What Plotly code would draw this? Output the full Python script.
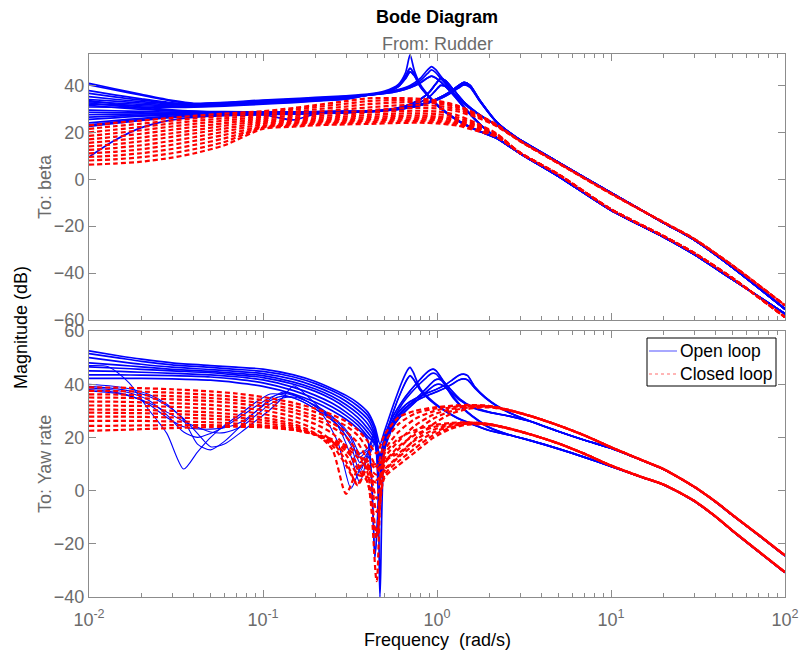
import plotly.graph_objects as go

BLUE = "#0000ff"
RED = "#ff0000"

# ======================= To: beta =======================
BETA_LOW_W = [0.01, 0.014, 0.02, 0.03, 0.04, 0.06, 0.1, 0.15, 0.2, 0.3]

# open loop, low-frequency part (dB)
BETA_OPEN_LOW = [
    [40.9, 38.6, 36.2, 33.6, 32.4, 32.8, 33.8, 34.4, 34.9, 35.6],
    [40.2, 38.1, 35.8, 33.3, 32.2, 32.6, 33.5, 34.1, 34.6, 35.3],
    [37.8, 36.0, 34.3, 32.6, 32.1, 32.6, 33.4, 34.0, 34.5, 35.2],
    [36.6, 35.1, 33.7, 32.4, 32.0, 32.5, 33.3, 33.9, 34.4, 35.1],
    [35.2, 34.1, 33.1, 32.1, 31.8, 32.2, 32.9, 33.5, 34.1, 34.9],
    [34.0, 33.3, 32.5, 31.7, 31.5, 32.0, 32.7, 33.3, 33.9, 34.7],
    [33.0, 32.5, 31.9, 31.3, 31.2, 31.7, 32.5, 33.1, 33.7, 34.5],
    [32.0, 31.7, 31.3, 31.0, 31.0, 31.5, 32.3, 32.9, 33.5, 34.3],
    [30.8, 30.7, 30.6, 30.6, 30.7, 31.2, 32.0, 32.7, 33.3, 34.1],
    [33.5, 32.2, 30.8, 29.6, 29.1, 28.8, 28.7, 28.7, 28.8, 29.0],
    [32.5, 31.4, 30.3, 29.3, 28.9, 28.7, 28.6, 28.6, 28.7, 28.9],
    [31.5, 30.6, 29.8, 29.1, 28.8, 28.6, 28.5, 28.6, 28.7, 28.9],
    [29.5, 29.2, 28.9, 28.6, 28.5, 28.4, 28.3, 28.4, 28.6, 28.8],
    [28.5, 28.4, 28.3, 28.2, 28.2, 28.2, 28.2, 28.3, 28.5, 28.7],
    [27.5, 27.7, 27.9, 28.0, 28.1, 28.1, 27.5, 25.3, 27.8, 28.6],
    [26.5, 26.9, 27.3, 27.7, 27.9, 28.0, 28.0, 28.2, 28.4, 28.6],
    [25.5, 26.2, 26.9, 27.4, 27.7, 27.9, 27.9, 28.1, 28.3, 28.6],
    [24.0, 25.0, 26.0, 26.9, 27.3, 27.6, 27.8, 28.0, 28.2, 28.5],
    [23.2, 24.4, 25.5, 26.6, 27.1, 27.5, 27.7, 27.9, 28.1, 28.4],
    [22.5, 23.8, 25.1, 26.4, 26.9, 27.4, 27.6, 27.9, 28.1, 28.4],
    [9.5, 16.5, 22.0, 25.3, 26.4, 27.1, 27.5, 27.8, 28.0, 28.3],
]

# open loop, resonance parts
BETA_PEAK_A_W = [0.4, 0.5, 0.6, 0.66, 0.70, 0.74, 0.8, 0.9, 1.05, 1.3, 1.7, 2.2]
BETA_PEAK_A = [
    [36.3, 37.6, 40.5, 45.5, 53.0, 46.5, 40.5, 35.5, 30.5, 25.5, 21.0, 17.5],
    [36.0, 37.2, 40.0, 44.0, 47.3, 45.0, 40.0, 35.2, 30.3, 25.3, 20.9, 17.5],
    [35.8, 36.9, 39.5, 43.0, 45.8, 44.2, 39.5, 35.0, 30.1, 25.2, 20.8, 17.5],
]
BETA_PEAK_B_W = [0.4, 0.5, 0.6, 0.7, 0.8, 0.88, 0.93, 0.98, 1.05, 1.2, 1.45, 1.8, 2.2]
BETA_PEAK_B = [
    [36.0, 37.0, 38.2, 40.0, 43.0, 46.5, 48.0, 46.8, 44.0, 38.5, 30.5, 23.0, 17.8],
    [35.9, 36.8, 37.9, 39.5, 42.0, 45.0, 46.6, 45.6, 43.0, 38.0, 30.2, 22.9, 17.8],
    [35.8, 36.6, 37.6, 39.0, 41.0, 43.2, 44.0, 43.3, 41.5, 37.2, 30.0, 22.8, 17.8],
]
BETA_PEAK_C_W = [0.4, 0.5, 0.6, 0.7, 0.8, 0.9, 0.98, 1.05, 1.12, 1.25, 1.45, 1.8, 2.2]
BETA_PEAK_C = [
    [29.0, 29.5, 30.5, 32.0, 34.0, 37.0, 40.5, 43.0, 42.0, 38.0, 32.5, 27.0, 23.0],
    [28.9, 29.3, 30.1, 31.3, 32.8, 35.0, 37.8, 40.0, 39.6, 36.5, 31.8, 26.8, 23.0],
]
BETA_PEAK_D_W = [0.4, 0.5, 0.6, 0.7, 0.8, 0.9, 1.0, 1.1, 1.2, 1.32, 1.43, 1.55, 1.75, 2.2]
BETA_PEAK_D = [
    [29.0, 29.4, 30.0, 30.8, 31.8, 33.0, 34.3, 35.8, 37.5, 39.8, 41.3, 40.0, 34.0, 24.5],
    [28.9, 29.3, 29.9, 30.6, 31.6, 32.8, 34.0, 35.5, 37.1, 39.3, 40.7, 39.6, 33.8, 24.4],
    [28.8, 29.2, 29.8, 30.5, 31.5, 32.6, 33.8, 35.2, 36.8, 38.8, 40.2, 39.2, 33.6, 24.3],
]
BETA_OPEN_ROUTE = [("A", 0), ("B", 0), ("A", 2), ("A", 1), ("B", 1), ("A", 2), ("B", 2), ("A", 1), ("B", 2),
                   ("C", 0), ("D", 0), ("D", 0), ("C", 1), ("C", 1), ("D", 1), ("D", 1), ("D", 2),
                   ("C", 0), ("C", 0), ("D", 0), ("D", 2)]

# closed loop
BETA_CLOSED_LOW = [
    [23.0, 24.0, 25.0, 26.2, 27.0, 28.0, 29.0, 30.4, 31.6, 33.3],
    [21.5, 22.6, 23.7, 25.0, 25.9, 27.0, 28.3, 29.7, 30.8, 32.2],
    [20.0, 21.1, 22.3, 23.8, 24.8, 26.0, 27.5, 28.8, 29.8, 31.0],
    [18.5, 19.6, 20.9, 22.5, 23.6, 25.0, 26.7, 28.0, 28.8, 29.8],
    [17.0, 18.1, 19.4, 21.1, 22.3, 23.9, 25.9, 27.1, 27.8, 28.6],
    [15.5, 16.5, 17.8, 19.6, 20.9, 22.8, 25.1, 26.3, 26.9, 27.6],
    [14.0, 14.9, 16.2, 18.1, 19.5, 21.6, 24.3, 25.6, 26.1, 26.7],
    [12.5, 13.3, 14.5, 16.4, 17.9, 20.3, 23.5, 24.9, 25.4, 25.9],
    [11.0, 11.7, 12.8, 14.7, 16.3, 18.9, 22.7, 24.2, 24.8, 25.2],
    [9.5, 10.1, 11.1, 12.9, 14.6, 17.4, 22.2, 23.6, 24.2, 24.6],
    [8.0, 8.5, 9.4, 11.1, 12.8, 15.9, 22.0, 23.0, 23.6, 24.0],
    [6.2, 6.7, 7.5, 9.2, 11.0, 14.5, 21.5, 22.4, 23.0, 23.4],
]
BETA_CLOSED_MID_W = [0.4, 0.6, 0.8, 1.0, 1.3, 1.7, 2.2]
BETA_CLOSED_MID = [
    [34.5, 34.6, 34.3, 33.5, 31.5, 27.8, 23.3],
    [33.3, 33.8, 33.6, 33.0, 31.2, 27.6, 23.2],
    [32.0, 32.8, 32.8, 32.4, 30.7, 27.3, 23.0],
    [30.6, 31.5, 31.6, 31.3, 29.9, 26.9, 22.8],
    [29.4, 30.2, 30.4, 30.2, 29.0, 26.3, 22.6],
    [28.4, 29.1, 29.2, 28.9, 27.4, 23.8, 19.5],
    [27.4, 28.0, 28.1, 27.8, 26.4, 23.2, 19.3],
    [26.5, 27.0, 27.1, 26.8, 25.5, 22.6, 19.0],
    [25.7, 26.2, 26.3, 26.0, 24.8, 22.1, 18.8],
    [25.0, 25.4, 25.5, 25.2, 24.1, 21.6, 18.5],
    [24.3, 24.7, 24.8, 24.5, 23.5, 21.1, 18.3],
    [23.6, 24.0, 24.1, 23.8, 22.9, 20.6, 18.0],
]
BETA_CLOSED_ROUTE = ["up"] * 5 + ["lo"] * 7

BETA_TAIL_W = [3, 5, 10, 20, 30, 50, 100]
BETA_TAIL_UP_RED = [16.3, 6.8, -6.1, -18.3, -25.4, -36.8, -53.8]
BETA_TAIL_UP_BLUE = [16.8, 7.2, -5.8, -18.5, -25.8, -37.6, -55.3]
BETA_TAIL_LO_RED = [11.3, 2.0, -12.8, -24.2, -31.4, -42.2, -58.8]
BETA_TAIL_LO_BLUE = [11.0, 1.2, -13.2, -24.6, -32.0, -42.8, -57.3]

# ======================= To: Yaw rate =======================
YAW_LOW_W = [0.01, 0.015, 0.02, 0.03, 0.05, 0.07, 0.1, 0.15, 0.2, 0.25, 0.3, 0.35, 0.4]
YAW_OPEN_UPPER = [
    [52.5, 50.6, 49.4, 48.0, 47.0, 46.4, 45.7, 43.5, 41.0, 38.3, 35.8, 33.0, 29.5],
    [51.5, 49.8, 48.6, 47.3, 46.3, 45.6, 44.8, 42.7, 40.2, 37.5, 34.8, 31.8, 28.2],
    [50.0, 48.5, 47.5, 46.4, 45.5, 44.8, 44.0, 41.8, 39.2, 36.5, 33.6, 30.4, 26.8],
    [48.0, 47.2, 46.5, 45.6, 44.8, 44.1, 43.2, 40.8, 38.2, 35.4, 32.3, 29.0, 25.0],
    [46.5, 46.0, 45.6, 45.0, 44.3, 43.5, 42.5, 40.0, 37.3, 34.3, 31.0, 27.5, 23.3],
    [45.0, 44.8, 44.5, 44.1, 43.5, 42.8, 41.6, 38.8, 35.8, 32.8, 29.5, 26.0, 21.8],
    [43.5, 43.5, 43.4, 43.2, 42.7, 41.9, 40.5, 37.6, 34.5, 31.4, 28.2, 24.7, 20.3],
    [42.2, 42.2, 42.2, 42.0, 41.5, 40.6, 39.2, 36.3, 33.2, 30.0, 26.8, 23.3, 19.0],
]
YAW_OPEN_UPPER_ROUTE = [("Q070", 0), ("Q095", 0), ("Q142", 0), ("Q070", 1),
                        ("Q095", 1), ("Q142", 1), ("Q102", 0), ("Q102", 1)]

YAW_MID_W = [0.01, 0.013, 0.017, 0.022, 0.028, 0.035, 0.042, 0.05, 0.06, 0.075,
             0.09, 0.11, 0.13, 0.15, 0.18, 0.22, 0.27, 0.32, 0.36, 0.4]
YAW_OPEN_MIDDLE = [
    [47.0, 46.5, 40.5, 30.5, 21.5, 8.1, 14.5, 20.0, 24.5, 29.0, 33.0, 36.3, 36.0, 34.8, 32.5, 28.5, 18.0, 0.8, 8.0, 12.0],
    [40.0, 39.4, 38.3, 36.2, 32.5, 26.5, 17.5, 15.3, 18.5, 24.5, 29.5, 34.5, 37.0, 36.0, 33.5, 29.5, 24.0, 13.0, 3.0, 13.0],
    [39.2, 38.6, 37.5, 35.5, 32.0, 27.0, 21.5, 16.5, 17.5, 22.0, 26.0, 30.5, 35.0, 39.4, 35.5, 30.0, 24.5, 17.0, 7.0, 14.0],
    [38.6, 38.0, 36.8, 34.0, 28.5, 22.0, 20.0, 21.5, 24.0, 28.0, 31.5, 35.0, 36.5, 35.8, 33.5, 30.0, 25.5, 19.5, 10.5, 14.5],
    [38.0, 37.3, 35.8, 32.5, 27.5, 24.0, 23.2, 23.1, 23.6, 25.8, 29.5, 33.8, 35.5, 34.8, 32.5, 29.0, 24.5, 18.0, 12.5, 15.0],
    [37.5, 36.9, 35.6, 33.0, 29.5, 26.0, 23.8, 22.0, 21.8, 24.0, 28.0, 32.5, 34.8, 35.2, 33.5, 30.5, 26.0, 20.5, 14.0, 16.0],
]
YAW_OPEN_MIDDLE_ROUTE = [("Q102", 0), ("Q142", 1), ("Q070", 1), ("Q095", 0), ("Q102", 1), ("Q142", 0)]

YAW_Q070_W = [0.44, 0.47, 0.5, 0.56, 0.63, 0.68, 0.70, 0.73, 0.8, 0.9, 1.05, 1.3, 1.6, 2.0, 2.6]
YAW_Q070 = [
    [24.0, 17.5, 22.5, 32.0, 41.0, 45.5, 46.3, 44.5, 38.5, 34.8, 31.2, 27.5, 25.0, 22.6, 20.9],
    [20.0, 8.0, 18.5, 29.5, 38.0, 42.3, 43.2, 42.0, 37.8, 34.3, 30.9, 27.3, 24.9, 22.6, 20.9],
]
YAW_Q095_W = [0.44, 0.47, 0.5, 0.56, 0.63, 0.7, 0.78, 0.86, 0.92, 0.95, 0.99, 1.08, 1.25, 1.5, 2.0, 2.6]
YAW_Q095 = [
    [22.5, 12.0, 20.5, 28.0, 33.5, 37.5, 41.0, 44.0, 45.4, 45.7, 45.0, 41.5, 35.0, 29.5, 23.8, 21.0],
    [19.0, -40.0, 16.0, 26.5, 32.5, 36.3, 39.6, 42.2, 43.8, 44.2, 43.8, 40.8, 34.5, 29.2, 23.6, 21.0],
]
YAW_Q102_W = [0.44, 0.47, 0.5, 0.56, 0.63, 0.7, 0.8, 0.9, 0.97, 1.02, 1.08, 1.18, 1.35, 1.6, 2.0, 2.6]
YAW_Q102 = [
    [17.5, 3.0, 17.0, 25.0, 29.5, 32.5, 36.0, 39.5, 41.5, 41.9, 41.2, 38.5, 34.5, 31.5, 29.5, 28.0],
    [-25.0, 5.0, 15.5, 24.0, 28.5, 31.5, 35.0, 38.0, 39.6, 40.0, 39.5, 37.4, 34.0, 31.2, 29.4, 28.0],
]
YAW_Q142_W = [0.44, 0.47, 0.5, 0.56, 0.63, 0.7, 0.8, 0.9, 1.0, 1.1, 1.22, 1.33, 1.42, 1.5, 1.65, 1.9, 2.2, 2.6]
YAW_Q142 = [
    [21.0, 13.0, 19.5, 26.5, 31.0, 33.5, 35.5, 37.0, 38.2, 39.5, 41.5, 43.3, 43.8, 43.2, 39.0, 35.0, 32.0, 29.4],
    [18.0, 9.0, 18.5, 25.5, 30.0, 32.5, 34.5, 36.0, 37.2, 38.4, 40.0, 41.5, 42.0, 41.6, 38.5, 34.8, 31.8, 29.3],
]

YAW_CLOSED_W = [0.01, 0.015, 0.02, 0.03, 0.05, 0.07, 0.1, 0.15, 0.2, 0.25, 0.3,
                0.35, 0.4, 0.45, 0.5, 0.6, 0.75, 0.95, 1.2, 1.5, 2.0, 2.6]
YAW_CLOSED = [
    [38.8, 38.7, 38.5, 38.1, 37.3, 36.5, 35.2, 33.0, 30.8, 28.5, 26.0, 22.8, 18.5, 14.0, 21.0, 27.5, 30.0, 31.2, 31.9, 32.2, 31.8, 30.3],
    [37.5, 37.4, 37.2, 36.8, 36.0, 35.2, 34.0, 31.8, 29.5, 27.0, 24.3, 20.8, 15.5, 9.0, 18.0, 25.0, 29.0, 30.7, 31.7, 32.1, 31.8, 30.3],
    [36.2, 36.1, 35.9, 35.5, 34.8, 34.0, 32.8, 30.5, 28.0, 25.3, 22.2, 18.0, 11.0, -3.0, 15.0, 22.0, 27.0, 29.8, 31.3, 31.9, 31.7, 30.2],
    [35.0, 34.9, 34.7, 34.3, 33.6, 32.8, 31.6, 29.3, 26.8, 23.8, 20.2, 14.5, 6.5, -16.0, 12.0, 18.5, 24.5, 28.5, 30.6, 31.6, 31.6, 30.2],
    [33.5, 33.4, 33.2, 32.9, 32.2, 31.4, 30.2, 27.8, 25.0, 21.5, 16.5, 8.0, 3.0, -34.0, 10.0, 15.5, 22.0, 27.0, 29.8, 31.2, 31.5, 30.1],
    [32.0, 31.9, 31.8, 31.5, 30.8, 30.0, 28.8, 26.2, 23.0, 18.5, 11.0, 2.0, 8.5, 6.0, 14.0, 19.5, 22.8, 24.6, 25.4, 25.7, 25.0, 23.4],
    [30.5, 30.4, 30.3, 30.0, 29.4, 28.6, 27.5, 25.0, 21.5, 15.5, -1.2, 8.0, 11.0, 8.0, 11.0, 16.5, 21.0, 23.8, 25.1, 25.6, 25.0, 23.4],
    [29.3, 29.2, 29.1, 28.8, 28.2, 27.5, 26.5, 24.2, 21.0, 17.0, 9.5, 2.5, 9.5, 10.0, 11.5, 14.0, 19.0, 22.8, 24.7, 25.4, 24.9, 23.3],
    [27.8, 27.8, 27.7, 27.5, 27.0, 26.4, 25.5, 23.5, 21.0, 18.0, 13.5, 6.0, 5.0, 3.0, 7.5, 12.5, 17.5, 21.8, 24.2, 25.2, 24.9, 23.3],
    [26.2, 26.2, 26.2, 26.0, 25.7, 25.2, 24.5, 23.0, 21.0, 18.5, 15.0, 10.0, 3.0, -18.0, 6.0, 11.0, 16.0, 20.8, 23.7, 25.0, 24.8, 23.3],
    [24.3, 24.4, 24.5, 24.6, 24.6, 24.4, 24.0, 22.8, 21.0, 18.8, 16.0, 12.5, 8.0, 4.0, 8.0, 13.0, 19.5, 25.0, 28.8, 30.7, 31.3, 30.1],
    [22.5, 22.8, 23.1, 23.5, 23.9, 24.0, 23.8, 22.8, 21.2, 19.3, 17.0, 14.0, 10.0, -8.0, 5.0, 9.5, 14.5, 19.8, 23.2, 24.8, 24.7, 23.2],
]
YAW_CLOSED_ROUTE = ["up", "up", "up", "up", "up", "lo", "lo", "lo", "lo", "lo", "up", "lo"]

YAW_TAIL_W = [3.5, 5, 7, 10, 15, 20, 30, 40, 50, 70, 100]
YAW_TAIL_UP_RED = [27.9, 24.5, 20.8, 16.3, 11.5, 8.1, 1.5, -4.2, -9.2, -16.5, -24.4]
YAW_TAIL_LO_RED = [21.0, 17.7, 13.9, 9.4, 5.1, 2.3, -3.8, -9.8, -15.1, -22.7, -30.7]
YAW_TAIL_UP_BLUE = [25.9, 22.2, 19.0, 15.9, 11.4, 8.0, 1.4, -4.3, -9.3, -16.6, -24.5]
YAW_TAIL_LO_BLUE = [18.7, 15.7, 12.6, 9.1, 5.0, 2.2, -3.9, -9.9, -15.2, -22.8, -30.8]

# axis ticks
X_TICKS = [0.01, 0.1, 1, 10, 100]
X_TICK_TEXT = ["10<sup>-2</sup>", "10<sup>-1</sup>", "10<sup>0</sup>", "10<sup>1</sup>", "10<sup>2</sup>"]
BETA_Y_TICKS = [-60, -40, -20, 0, 20, 40]
YAW_Y_TICKS = [-40, -20, 0, 20, 40, 60]
LEGEND_NAMES = ["Open loop", "Closed loop"]

fig = go.Figure()


def add_curve(w, db, color, width, dash, panel):
    fig.add_trace(go.Scatter(
        x=w, y=db, mode="lines",
        line=dict(color=color, width=width, dash=dash, shape="spline", smoothing=0.7),
        xaxis="x" if panel == 1 else "x2", yaxis="y" if panel == 1 else "y2",
        showlegend=False, hoverinfo="skip"))


RED_DASH = "5px,3px"

# ---- To: beta, open loop ----
beta_peaks = {
    "A": (BETA_PEAK_A_W, BETA_PEAK_A, BETA_TAIL_LO_BLUE),
    "B": (BETA_PEAK_B_W, BETA_PEAK_B, BETA_TAIL_LO_BLUE),
    "C": (BETA_PEAK_C_W, BETA_PEAK_C, BETA_TAIL_UP_BLUE),
    "D": (BETA_PEAK_D_W, BETA_PEAK_D, BETA_TAIL_UP_BLUE),
}
for low, (fam, k) in zip(BETA_OPEN_LOW, BETA_OPEN_ROUTE):
    pw, pv, tail = beta_peaks[fam]
    add_curve(BETA_LOW_W + pw + BETA_TAIL_W, low + pv[k] + tail, BLUE, 1.7, "solid", 1)

# ---- To: Yaw rate, open loop ----
yaw_peaks = {
    "Q070": (YAW_Q070_W, YAW_Q070, YAW_TAIL_LO_BLUE),
    "Q095": (YAW_Q095_W, YAW_Q095, YAW_TAIL_LO_BLUE),
    "Q102": (YAW_Q102_W, YAW_Q102, YAW_TAIL_UP_BLUE),
    "Q142": (YAW_Q142_W, YAW_Q142, YAW_TAIL_UP_BLUE),
}
for low, (fam, k) in zip(YAW_OPEN_UPPER, YAW_OPEN_UPPER_ROUTE):
    pw, pv, tail = yaw_peaks[fam]
    add_curve(YAW_LOW_W + pw + YAW_TAIL_W, low + pv[k] + tail, BLUE, 1.7, "solid", 2)
for low, (fam, k) in zip(YAW_OPEN_MIDDLE, YAW_OPEN_MIDDLE_ROUTE):
    pw, pv, tail = yaw_peaks[fam]
    add_curve(YAW_MID_W + pw + YAW_TAIL_W, low + pv[k] + tail, BLUE, 1.1, "solid", 2)

# ---- closed loop (drawn over the open loop) ----
for low, mid, route in zip(BETA_CLOSED_LOW, BETA_CLOSED_MID, BETA_CLOSED_ROUTE):
    tail = BETA_TAIL_UP_RED if route == "up" else BETA_TAIL_LO_RED
    add_curve(BETA_LOW_W + BETA_CLOSED_MID_W + BETA_TAIL_W, low + mid + tail, RED, 2.2, RED_DASH, 1)

for vals, route in zip(YAW_CLOSED, YAW_CLOSED_ROUTE):
    tail = YAW_TAIL_UP_RED if route == "up" else YAW_TAIL_LO_RED
    add_curve(YAW_CLOSED_W + YAW_TAIL_W, vals + tail, RED, 2.2, RED_DASH, 2)

W, H = 799, 655
AX_COLOR = "#8c8c8c"
LABEL_GRAY = "#6b6b6b"
FONT = "Liberation Sans, Arial, sans-serif"
FS = 18


def px(x):
    return x / W


def py(y):
    return 1 - y / H


minor_vals = [m * 10 ** e for e in range(-2, 2) for m in range(2, 10)]

common_x = dict(
    type="log", range=[-2, 2], domain=[px(89), px(785)], automargin=False,
    showline=True, linecolor=AX_COLOR, linewidth=1, mirror="ticks",
    ticks="inside", ticklen=7, tickcolor=AX_COLOR, tickvals=X_TICKS,
    showgrid=False, zeroline=False,
    minor=dict(tickvals=minor_vals, ticks="inside", ticklen=4, tickcolor=AX_COLOR, showgrid=False),
)
common_y = dict(
    showline=True, linecolor=AX_COLOR, linewidth=1, mirror="ticks", automargin=False,
    ticks="inside", ticklen=7, tickcolor=AX_COLOR, showgrid=False, zeroline=False,
    tickfont=dict(family=FONT, size=FS, color=LABEL_GRAY),
)


def label(text, x, y, color="black", angle=0, xanchor="center", size=FS):
    return dict(text=text, x=px(x), y=py(y), xref="paper", yref="paper",
                xanchor=xanchor, yanchor="middle", textangle=angle, showarrow=False,
                font=dict(family=FONT, size=size, color=color))


# legend box drawn in the lower panel's top-right corner
legend_shapes = [
    dict(type="rect", xref="paper", yref="paper", x0=px(647), x1=px(776), y0=py(386), y1=py(338),
         line=dict(color="black", width=1), fillcolor="white", layer="above"),
    dict(type="line", xref="paper", yref="paper", x0=px(649), x1=px(677), y0=py(351), y1=py(351),
         line=dict(color="rgba(90,90,255,0.7)", width=1.5), layer="above"),
    dict(type="line", xref="paper", yref="paper", x0=px(649), x1=px(677), y0=py(374), y1=py(374),
         line=dict(color="rgba(255,70,70,0.8)", width=1, dash="dot"), layer="above"),
]

fig.update_layout(
    width=W, height=H,
    margin=dict(l=0, r=0, t=0, b=0, pad=0, autoexpand=False),
    paper_bgcolor="white", plot_bgcolor="white",
    font=dict(family=FONT, size=FS, color="black"),
    xaxis=dict(common_x, anchor="y", showticklabels=False),
    yaxis=dict(common_y, anchor="x", domain=[py(320), py(54)],
               range=[-60, 53.4], tickvals=BETA_Y_TICKS),
    xaxis2=dict(common_x, anchor="y2", matches="x", ticktext=X_TICK_TEXT, ticklabelstandoff=6,
                tickfont=dict(family=FONT, size=FS, color=LABEL_GRAY)),
    yaxis2=dict(common_y, anchor="x2", domain=[py(597), py(331)],
                range=[-40, 60], tickvals=YAW_Y_TICKS),
    showlegend=False,
    shapes=legend_shapes,
    annotations=[
        label("<b>Bode Diagram</b>", 437, 17),
        label("From: Rudder", 437, 44, LABEL_GRAY),
        label("Magnitude (dB)", 21, 328, angle=-90),
        label("To: beta", 45, 187, LABEL_GRAY, angle=-90),
        label("To: Yaw rate", 45, 464, LABEL_GRAY, angle=-90),
        label("Frequency\u00a0 (rad/s)", 437, 640),
        label(LEGEND_NAMES[0], 678, 351, xanchor="left", size=17.5),
        label(LEGEND_NAMES[1], 678, 374, xanchor="left", size=17.5),
    ],
)

fig.write_html("out.html")
